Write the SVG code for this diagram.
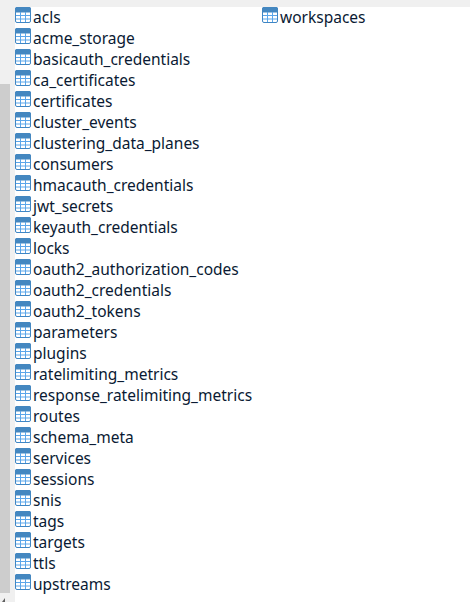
<svg xmlns="http://www.w3.org/2000/svg" width="470" height="602" viewBox="0 0 470 602">
<style>
text{font-family:"Noto Sans","Open Sans","Liberation Sans",sans-serif;font-size:15.5px;fill:#0a1a33}
</style>
<defs>
<g id="ic">
<rect x="0.5" y="0.5" width="15" height="15" rx="1.5" fill="#fff" stroke="#3f86c4"/>
<path d="M0 5.5V2a2 2 0 0 1 2-2h12a2 2 0 0 1 2 2v3.5z" fill="#4487c0"/>
<path d="M5.5 5V15M10.5 5V15M1 8.5H15M1 12H15" stroke="#5ba6ea" fill="none"/>
</g>
</defs>
<rect width="470" height="602" fill="#fff"/>
<rect width="470" height="7" fill="#f0f0f0"/>
<rect width="15" height="602" fill="#f0f0f0"/>
<rect y="84" width="10" height="509" fill="#cdcdcd"/>
<polygon points="2,602 5,598 5,602" fill="#606060"/>
<g id="n0"><use href="#ic" x="15" y="7"/><text x="33" y="23">acls</text></g>
<g id="n1"><use href="#ic" x="15" y="28"/><text x="33" y="44">acme_storage</text></g>
<g id="n2"><use href="#ic" x="15" y="49"/><text x="33" y="65">basicauth_credentials</text></g>
<g id="n3"><use href="#ic" x="15" y="70"/><text x="33" y="86">ca_certificates</text></g>
<g id="n4"><use href="#ic" x="15" y="91"/><text x="33" y="107">certificates</text></g>
<g id="n5"><use href="#ic" x="15" y="112"/><text x="33" y="128">cluster_events</text></g>
<g id="n6"><use href="#ic" x="15" y="133"/><text x="33" y="149">clustering_data_planes</text></g>
<g id="n7"><use href="#ic" x="15" y="154"/><text x="33" y="170">consumers</text></g>
<g id="n8"><use href="#ic" x="15" y="175"/><text x="33" y="191">hmacauth_credentials</text></g>
<g id="n9"><use href="#ic" x="15" y="196"/><text x="33" y="212">jwt_secrets</text></g>
<g id="n10"><use href="#ic" x="15" y="217"/><text x="33" y="233">keyauth_credentials</text></g>
<g id="n11"><use href="#ic" x="15" y="238"/><text x="33" y="254">locks</text></g>
<g id="n12"><use href="#ic" x="15" y="259"/><text x="33" y="275">oauth2_authorization_codes</text></g>
<g id="n13"><use href="#ic" x="15" y="280"/><text x="33" y="296">oauth2_credentials</text></g>
<g id="n14"><use href="#ic" x="15" y="301"/><text x="33" y="317">oauth2_tokens</text></g>
<g id="n15"><use href="#ic" x="15" y="322"/><text x="33" y="338">parameters</text></g>
<g id="n16"><use href="#ic" x="15" y="343"/><text x="33" y="359">plugins</text></g>
<g id="n17"><use href="#ic" x="15" y="364"/><text x="33" y="380">ratelimiting_metrics</text></g>
<g id="n18"><use href="#ic" x="15" y="385"/><text x="33" y="401">response_ratelimiting_metrics</text></g>
<g id="n19"><use href="#ic" x="15" y="406"/><text x="33" y="422">routes</text></g>
<g id="n20"><use href="#ic" x="15" y="427"/><text x="33" y="443">schema_meta</text></g>
<g id="n21"><use href="#ic" x="15" y="448"/><text x="33" y="464">services</text></g>
<g id="n22"><use href="#ic" x="15" y="469"/><text x="33" y="485">sessions</text></g>
<g id="n23"><use href="#ic" x="15" y="490"/><text x="33" y="506">snis</text></g>
<g id="n24"><use href="#ic" x="15" y="511"/><text x="33" y="527">tags</text></g>
<g id="n25"><use href="#ic" x="15" y="532"/><text x="33" y="548">targets</text></g>
<g id="n26"><use href="#ic" x="15" y="553"/><text x="33" y="569">ttls</text></g>
<g id="n27"><use href="#ic" x="15" y="574"/><text x="33" y="590">upstreams</text></g>
<g id="n28"><use href="#ic" x="262" y="7"/><text x="280" y="23">workspaces</text></g>
</svg>
